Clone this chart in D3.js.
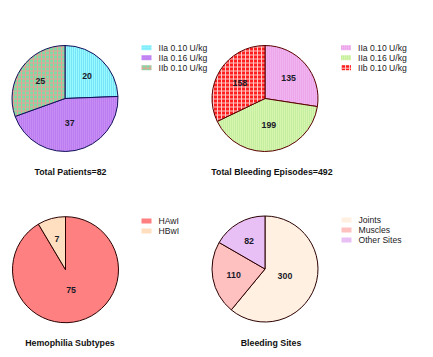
<!DOCTYPE html>
<html><head><meta charset="utf-8">
<script src="https://cdn.jsdelivr.net/npm/d3@7"></script>
<style>body{margin:0;background:#fff}svg{display:block}</style>
</head><body>
<script>
// ---- data ----
const titles = ["Total Patients=82", "Total Bleeding Episodes=492", "Hemophilia Subtypes", "Bleeding Sites"];
const pie1Labels = ["IIa 0.10 U/kg", "IIa 0.16 U/kg", "IIb 0.10 U/kg"];
const pie1Values = [20, 37, 25];
const pie2Labels = ["IIa 0.10 U/kg", "IIa 0.16 U/kg", "IIb 0.10 U/kg"];
const pie2Values = [135, 199, 158];
const pie3Labels = ["HAwI", "HBwI"];
const pie3Values = [75, 7];
const pie4Labels = ["Joints", "Muscles", "Other Sites"];
const pie4Values = [300, 110, 82];

const W = 433, H = 357;
const svg = d3.select("body").append("svg").attr("width", W).attr("height", H);
const defs = svg.append("defs");

function dotPattern(id, bg, dot) {
  const p = defs.append("pattern").attr("id", id).attr("width", 2).attr("height", 2).attr("patternUnits", "userSpaceOnUse");
  p.append("rect").attr("width", 2).attr("height", 2).attr("fill", bg);
  p.append("rect").attr("width", 1).attr("height", 1).attr("fill", dot);
}
function gridPattern(id, line, cell) {
  const p = defs.append("pattern").attr("id", id).attr("width", 4).attr("height", 4).attr("patternUnits", "userSpaceOnUse");
  p.append("rect").attr("width", 4).attr("height", 4).attr("fill", line);
  p.append("rect").attr("x", 1).attr("y", 1).attr("width", 3).attr("height", 3).attr("fill", cell);
}
dotPattern("pCyan", "#98faff", "#58cef0");
dotPattern("pPurple", "#c88cf6", "#b070e8");
gridPattern("pGreenChk", "#e8a096", "#80daa4");
dotPattern("pPink", "#f2b4f0", "#e49ae4");
dotPattern("pLtGreen", "#d6f6b0", "#b6e690");
gridPattern("pRed", "#ffc8c8", "#ff1e1e");

const charts = [
  {labels: pie1Labels, values: pie1Values, fills: ["url(#pCyan)", "url(#pPurple)", "url(#pGreenChk)"], stroke: "#10105a",
   cx: 65, cy: 98.5, lx: 141.5, ly: 47.7, tx: 70.5, ty: 172},
  {labels: pie2Labels, values: pie2Values, fills: ["url(#pPink)", "url(#pLtGreen)", "url(#pRed)"], stroke: "#5a0000",
   cx: 265, cy: 98.5, lx: 341, ly: 47.7, tx: 272, ty: 172},
  {labels: pie3Labels, values: pie3Values, fills: ["#ff8080", "#ffdfc0"], stroke: "#2a0000",
   cx: 65.5, cy: 269.7, lx: 141.5, ly: 221, tx: 70, ty: 343},
  {labels: pie4Labels, values: pie4Values, fills: ["#fff0e2", "#ffc0c0", "#e8c0f6"], stroke: "#2a0000",
   cx: 265, cy: 269, lx: 341.5, ly: 220, tx: 271, ty: 343}
];
const R = 53;

charts.forEach((c, ci) => {
  const g = svg.append("g").attr("transform", `translate(${c.cx},${c.cy})`);
  const arcs = d3.pie().sort(null)(c.values);
  const arc = d3.arc().innerRadius(0).outerRadius(R);
  g.selectAll("path").data(arcs).join("path")
    .attr("d", arc).attr("fill", (d, i) => c.fills[i])
    .attr("stroke", c.stroke).attr("stroke-width", 1);
  g.selectAll("text").data(arcs).join("text")
    .attr("transform", d => {
      const a = (d.startAngle + d.endAngle) / 2;
      const h = (d.endAngle - d.startAngle) / 2;
      let rr = 2 * R * Math.sin(h) / (3 * h);
      rr = Math.max(0.4 * R, Math.min(0.6 * R, rr));
      return `translate(${rr * Math.sin(a)},${-rr * Math.cos(a)})`;
    })
    .attr("text-anchor", "middle").attr("dominant-baseline", "central")
    .attr("font-family", "Liberation Sans, Arial, sans-serif").attr("font-weight", "bold")
    .attr("font-size", 8.8).attr("fill", "#1a1a28")
    .text(d => d.data);

  // legend
  const lg = svg.append("g").attr("transform", `translate(${c.lx},${c.ly})`);
  const row = lg.selectAll("g").data(c.labels).join("g").attr("transform", (d, i) => `translate(0,${i * 10})`);
  row.append("rect").attr("x", 0).attr("y", -2.5).attr("width", 10).attr("height", 5)
    .attr("fill", (d, i) => c.fills[i]);
  row.append("text").attr("x", 17).attr("y", 0).attr("dominant-baseline", "central")
    .attr("font-family", "Liberation Sans, Arial, sans-serif").attr("font-size", 8.6).attr("fill", "#222")
    .text(d => d);

  svg.append("text").attr("x", c.tx).attr("y", c.ty).attr("text-anchor", "middle").attr("dominant-baseline", "central")
    .attr("font-family", "Liberation Sans, Arial, sans-serif").attr("font-weight", "bold")
    .attr("font-size", 8.8).attr("fill", "#111").text(titles[ci]);
});
</script>
</body></html>
